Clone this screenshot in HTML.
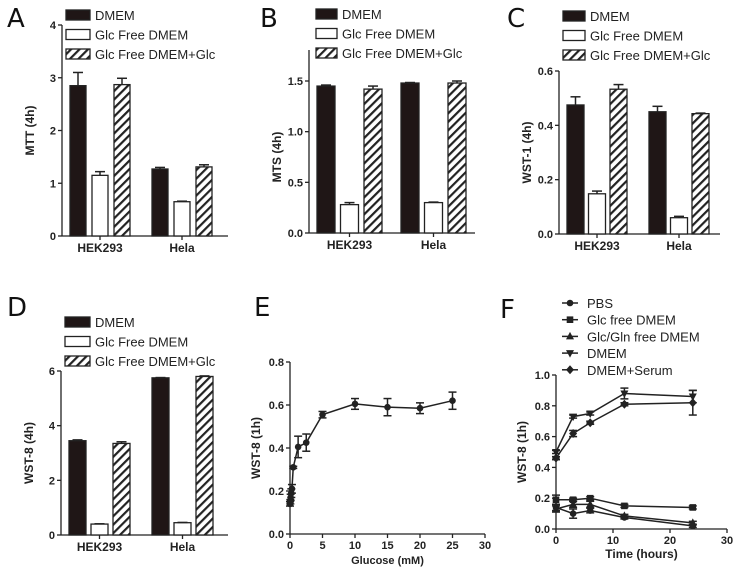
<!DOCTYPE html>
<html><head><meta charset="utf-8">
<style>
html,body{margin:0;padding:0;background:#fff;}
svg{display:block;font-family:"Liberation Sans",Arial,sans-serif;}
.tk{font-size:11px;font-weight:bold;fill:#222;}
.ti{font-size:12px;font-weight:bold;fill:#222;}
.lg{font-size:13px;fill:#222;}
.pl{font-size:26px;fill:#111;font-family:"DejaVu Sans",sans-serif;font-weight:normal;}
</style></head>
<body>
<svg id="fig" width="738" height="568" viewBox="0 0 738 568">
<defs>
<pattern id="hatch" patternUnits="userSpaceOnUse" width="6" height="6" patternTransform="rotate(45)">
<rect width="6" height="6" fill="#fff"/><rect width="2.2" height="6" fill="#222"/></pattern>
</defs>
</svg>
<script>
const groups = ["HEK293","Hela"];
const seriesNames = ["DMEM","Glc Free DMEM","Glc Free DMEM+Glc"];
const aVals = [[2.85,1.15,2.87],[1.27,0.65,1.31]];
const aErr = [[0.25,0.07,0.12],[0.03,0.01,0.04]];
const aTicks = [0,1,2,3,4];
const bVals = [[1.45,0.28,1.42],[1.48,0.30,1.48]];
const bErr = [[0.01,0.02,0.03],[0.005,0.005,0.02]];
const bTicks = ["0.0","0.5","1.0","1.5"];
const cVals = [[0.475,0.148,0.533],[0.45,0.06,0.443]];
const cErr = [[0.03,0.01,0.017],[0.02,0.005,0.002]];
const cTicks = ["0.0","0.2","0.4","0.6"];
const dVals = [[3.45,0.40,3.35],[5.75,0.45,5.80]];
const dErr = [[0.03,0.01,0.06],[0.01,0.01,0.02]];
const dTicks = [0,2,4,6];
const eX = [0,0.05,0.1,0.2,0.3,0.5,1.25,2.5,5,10,15,20,25];
const eY = [0.14,0.15,0.17,0.19,0.21,0.31,0.405,0.425,0.555,0.605,0.59,0.585,0.62];
const eErr = [0.01,0.01,0.015,0.02,0.02,0.005,0.05,0.04,0.015,0.025,0.04,0.025,0.04];
const eXTicks = [0,5,10,15,20,25,30];
const eYTicks = ["0.0","0.2","0.4","0.6","0.8"];
const fT = [0,3,6,12,24];
const fNames = ["PBS","Glc free DMEM","Glc/Gln free DMEM","DMEM","DMEM+Serum"];
const fPBS = [0.14,0.10,0.12,0.075,0.02];
const fGlc = [0.19,0.19,0.20,0.15,0.14];
const fGlcGln = [0.13,0.16,0.16,0.085,0.04];
const fDMEM = [0.50,0.73,0.75,0.88,0.86];
const fSerum = [0.46,0.62,0.69,0.81,0.82];
const fErr = [[0.02,0.03,0.015,0.01,0.01],[0.03,0.01,0.01,0.01,0.01],[0.02,0.02,0.02,0.01,0.01],[0.01,0.01,0.01,0.035,0.04],[0.01,0.02,0.01,0.01,0.08]];
const fXTicks = [0,10,20,30];
const fYTicks = ["0.0","0.2","0.4","0.6","0.8","1.0"];

const NS="http://www.w3.org/2000/svg";
const svg=document.getElementById('fig');
function mk(tag,attrs,parent,text){const e=document.createElementNS(NS,tag);for(const k in attrs)e.setAttribute(k,attrs[k]);if(text!==undefined)e.textContent=text;(parent||svg).appendChild(e);return e;}
function line(g,x1,y1,x2,y2,w){return mk('line',{x1,y1,x2,y2,stroke:'#222','stroke-width':w||1.3},g);}

function barPanel(id,letter,cfg,vals,errs,ticks){
  const g=mk('g',{});
  
  
  const yS=v=>cfg.y0-(v/cfg.ymax)*(cfg.y0-cfg.yTop);
  const t=mk('text',{x:cfg.lx,y:cfg.ly,class:'pl'},g,letter);
  
  
  line(g,cfg.ax,cfg.axTop,cfg.ax,cfg.y0);
  line(g,cfg.ax,cfg.y0,cfg.axEnd,cfg.y0);
  ticks.forEach(tv=>{const y=yS(parseFloat(tv));line(g,cfg.ax-4,y,cfg.ax,y);
    const tt=mk('text',{x:cfg.ax-6,y:y+4,'text-anchor':'end',class:'tk'},g,tv);
    
    });
  const ti=mk('text',{x:0,y:0,'text-anchor':'middle',class:'ti',transform:`translate(${cfg.ax-28},${(cfg.yTop+cfg.y0)/2}) rotate(-90)`},g,cfg.title);
  
  
  const fills=['#1f1616','#fff','url(#hatch)'];
  groups.forEach((gn,gi)=>{
    vals[gi].forEach((v,si)=>{
      const x=cfg.bx[gi]+si*cfg.step, y=yS(v);
      const r=mk('rect',{x:x,y:y,width:cfg.bw,height:cfg.y0-y,fill:fills[si],stroke:'#222','stroke-width':1.3},g);
      
      
      const ye=yS(v+errs[gi][si]);const cx=x+cfg.bw/2;
      line(g,cx,y,cx,ye,1.5);line(g,cx-5,ye,cx+5,ye,1.5);
    });
    const cx=cfg.bx[gi]+cfg.step+cfg.bw/2;
    line(g,cx,cfg.y0,cx,cfg.y0+4);
    const xl=mk('text',{x:cx,y:cfg.y0+16,'text-anchor':'middle',class:'tk',style:'font-size:12px'},g,gn);
    
    
  });
  seriesNames.forEach((n,si)=>{
    const y=cfg.legY+si*19.5;
    const r=mk('rect',{x:cfg.legX,y:y-5,width:cfg.legW,height:10,fill:fills[si],stroke:'#222','stroke-width':1.3},g);
    
    
    const tx=mk('text',{x:cfg.legX+cfg.legW+5,y:y+5,class:'lg'},g,n);
    
    
  });
}
barPanel('a','A',{lx:7,ly:27,ax:62,axTop:25,y0:236,yTop:25,ymax:4,axEnd:228,bx:[70,152],step:22,bw:16,title:'MTT (4h)',legX:66,legY:15,legW:24},aVals,aErr,aTicks);
barPanel('b','B',{lx:260,ly:27,ax:309,axTop:50,y0:233,yTop:81,ymax:1.5,axEnd:475,bx:[317,401],step:23.5,bw:18,title:'MTS (4h)',legX:316,legY:14,legW:21},bVals,bErr,bTicks);
barPanel('c','C',{lx:507,ly:27,ax:559,axTop:71,y0:234,yTop:71,ymax:0.6,axEnd:720,bx:[567,649],step:21.5,bw:17,title:'WST-1 (4h)',legX:563,legY:16,legW:22},cVals,cErr,cTicks);
barPanel('d','D',{lx:7,ly:316,ax:61,axTop:371,y0:535,yTop:371,ymax:6,axEnd:228,bx:[69,152],step:22,bw:17,title:'WST-8 (4h)',legX:65,legY:322,legW:25},dVals,dErr,dTicks);

function marker(g,type,x,y){
  let m;
  if(type==='circle')m=mk('circle',{cx:x,cy:y,r:3.3,fill:'#222'},g);
  else if(type==='square')m=mk('rect',{x:x-3.3,y:y-3.3,width:6.6,height:6.6,fill:'#222'},g);
  else if(type==='tri')m=mk('polygon',{points:`${x},${y-4.5} ${x-4},${y+3} ${x+4},${y+3}`,fill:'#222'},g);
  else if(type==='dtri')m=mk('polygon',{points:`${x},${y+4.5} ${x-4},${y-3} ${x+4},${y-3}`,fill:'#222'},g);
  else m=mk('polygon',{points:`${x},${y-4.5} ${x+4},${y} ${x},${y+4.5} ${x-4},${y}`,fill:'#222'},g);
  
  
}
function linePanel(id,letter,cfg,xt,yt,series,names){
  const g=mk('g',{});
  
  
  const xS=v=>cfg.x0+v/cfg.xmax*(cfg.x1-cfg.x0);
  const yS=v=>cfg.y0-v/cfg.ymax*(cfg.y0-cfg.y1);
  const t=mk('text',{x:cfg.lx,y:cfg.ly,class:'pl'},g,letter);
  
  
  line(g,cfg.x0,cfg.y1,cfg.x0,cfg.y0);line(g,cfg.x0,cfg.y0,cfg.x1,cfg.y0);
  xt.forEach(v=>{const x=xS(v);line(g,x,cfg.y0,x,cfg.y0+4);
    const tt=mk('text',{x:x,y:cfg.y0+15,'text-anchor':'middle',class:'tk'},g,String(v));
    
    });
  yt.forEach(v=>{const y=yS(parseFloat(v));line(g,cfg.x0-4,y,cfg.x0,y);
    const tt=mk('text',{x:cfg.x0-6,y:y+4,'text-anchor':'end',class:'tk'},g,v);
    
    });
  const xa=mk('text',{x:(cfg.x0+cfg.x1)/2,y:cfg.y0+cfg.xtOff,'text-anchor':'middle',class:'ti',style:'font-size:'+cfg.xtSize+'px'},g,cfg.xtitle);
  
  
  const ya=mk('text',{x:0,y:0,'text-anchor':'middle',class:'ti',transform:`translate(${cfg.x0-30},${(cfg.y0+cfg.y1)/2}) rotate(-90)`},g,cfg.ytitle);
  
  
  series.forEach((s,si)=>{
    const pts=s.x.map((xv,i)=>xS(xv)+','+yS(s.y[i])).join(' ');
    const pl=mk('polyline',{points:pts,fill:'none',stroke:'#222','stroke-width':1.5},g);
    
    
    s.x.forEach((xv,i)=>{const x=xS(xv),a=yS(s.y[i]+s.e[i]),b=yS(s.y[i]-s.e[i]);
      line(g,x,a,x,b,1.5);line(g,x-4,a,x+4,a,1.5);line(g,x-4,b,x+4,b,1.5);
      marker(g,s.m,x,yS(s.y[i]));});
  });
  if(names){names.forEach((n,i)=>{const y=cfg.legY+i*16.7;
    line(g,cfg.legX,y,cfg.legX+16,y,1.5);marker(g,series[i].m,cfg.legX+8,y);
    const tx=mk('text',{x:cfg.legX+25,y:y+5,class:'lg'},g,n);
    
    });}
}
linePanel('e','E',{lx:254,ly:316,x0:290,x1:485,xmax:30,y0:534,y1:362,ymax:0.8,xtitle:'Glucose (mM)',ytitle:'WST-8 (1h)',xtOff:30,xtSize:11},eXTicks,eYTicks,
  [{x:eX,y:eY,e:eErr,m:'circle'}],null);
linePanel('f','F',{lx:500,ly:318,x0:556,x1:727,xmax:30,y0:529,y1:375,ymax:1,xtitle:'Time (hours)',ytitle:'WST-8 (1h)',xtOff:29,xtSize:12,legX:562,legY:303},fXTicks,fYTicks,
  [{x:fT,y:fPBS,e:fErr[0],m:'circle'},{x:fT,y:fGlc,e:fErr[1],m:'square'},{x:fT,y:fGlcGln,e:fErr[2],m:'tri'},{x:fT,y:fDMEM,e:fErr[3],m:'dtri'},{x:fT,y:fSerum,e:fErr[4],m:'diamond'}],fNames);
</script>
</body></html>
